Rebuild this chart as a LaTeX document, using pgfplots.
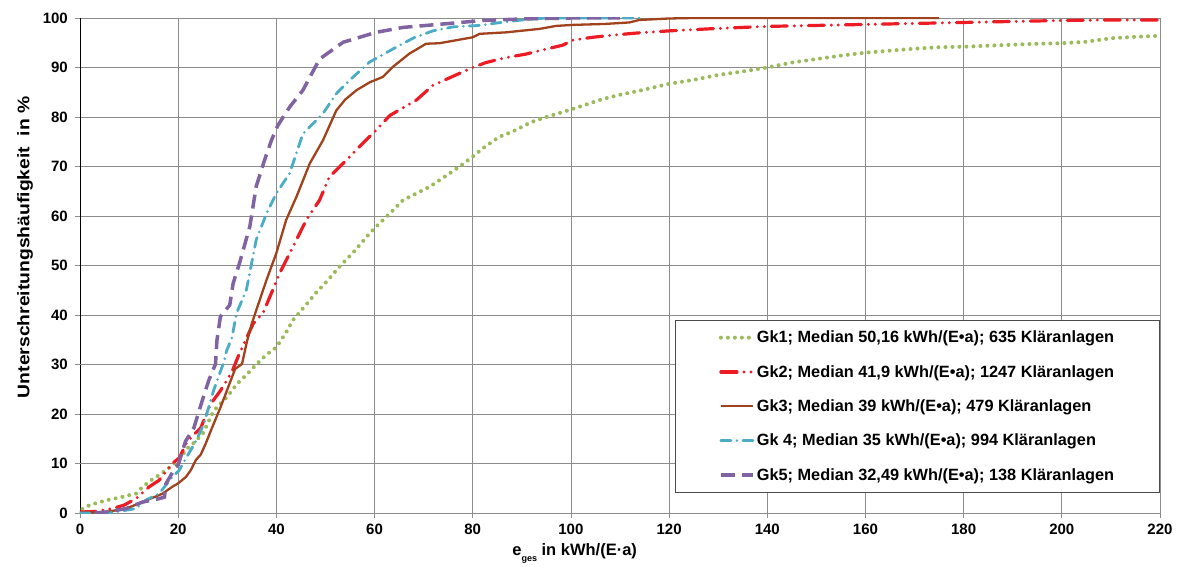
\documentclass[border=0pt]{standalone}
\usepackage{pgfplots}
\pgfplotsset{compat=1.18}
\usepackage{fontspec}
\setmainfont{Liberation Sans}
\definecolor{gkgreen}{HTML}{9BBB59}
\definecolor{gkred}{HTML}{ED1C24}
\definecolor{gkbrown}{HTML}{A0421C}
\definecolor{gkcyan}{HTML}{4BACC6}
\definecolor{gkpurple}{HTML}{8064A2}
\definecolor{gridgray}{HTML}{8C8C8C}
\begin{document}
\begin{tikzpicture}
\begin{axis}[
  name=ax,
  scale only axis,
  width=1080pt, height=495pt,
  xmin=0, xmax=220, ymin=0, ymax=100,
  xtick={0,20,...,220}, ytick={0,10,...,100},
  grid=major,
  major grid style={draw=gridgray, line width=0.7pt},
  extra x ticks={40,100}, extra x tick labels={},
  extra x tick style={grid style={draw=black, line width=0.7pt}},
  extra y ticks={10,30}, extra y tick labels={},
  extra y tick style={grid style={draw=black, line width=0.7pt}},
  axis line style={draw=gridgray, line width=0.7pt},
  separate axis lines,
  y axis line style={draw=black, line width=0.8pt},
  tick align=outside, major tick length=5pt,
  tick style={draw=gridgray, line width=0.7pt},
  axis x line*=bottom, axis y line*=left,
  /pgf/number format/assume math mode=true,
  ticklabel style={font=\bfseries\fontsize{15}{18}\selectfont, inner sep=0pt},
  yticklabel style={xshift=-7pt},
  xticklabel style={yshift=-6pt},
  xlabel={e\raisebox{-0.7ex}{\fontsize{9}{9}\selectfont ges} in kWh/(E·a)},
  xlabel style={at={(axis description cs:0.458,-0.062)}, anchor=north, inner sep=0pt, font=\bfseries\fontsize{16.5}{19}\selectfont},
  ylabel={\scalebox{1.15}[1]{Unterschreitungshäufigkeit\ \ in \%}},
  ylabel style={at={(axis description cs:-0.0435,0.537)}, anchor=south, inner sep=0pt, font=\bfseries\fontsize{16.8}{19}\selectfont},
  legend cell align=left,
  legend image code/.code={\draw[#1] (0pt,0pt) -- (32pt,0pt);},
  legend style={at={(1,0.0404)}, anchor=south east, draw=black!70, line width=0.8pt,
    font=\bfseries\fontsize{16.3}{18}\selectfont, inner xsep=43.5pt, inner ysep=9pt,
    row sep=17pt},
]
% Gk1
\addplot[gkgreen, line width=4pt, line cap=round, dash pattern=on 0pt off 7pt] coordinates {
(0.5,0.8)(2,1.6)(4,2.2)(6,2.7)(8,3.1)(10,3.6)(11.4,3.9)(12.5,5)(14,6.3)(16,7.6)(17.5,8.6)(18.5,9.4)(20,10.6)
(21.9,13.1)(23,14)(25,16)(27.2,20.6)(30,23.5)(31.9,26)(34,28)(36,30.1)(38,32)(40,33.5)(42,36.5)(43.4,39)
(46,42)(48,44.4)(50,46.5)(52.9,49.8)(56,53)(59,56.5)(61,58.5)(63.1,60.5)(65.8,63.2)(68,64.3)(71.2,65.9)
(75.3,68.6)(78,70.5)(80,72)(82.5,74)(85.4,76)(88,77)(90,78)(92,79)(95,80)(100,81.5)(106.4,83.6)(110,84.5)
(113.9,85.3)(120,86.7)(125,87.5)(130,88.5)(135,89.2)(140,90)(145,91)(150,91.7)(155,92.4)(160,93)(165,93.4)
(170,93.8)(175,94.1)(180,94.2)(185,94.4)(190,94.6)(195,94.8)(200,94.9)(205,95.2)(210,95.9)(215,96.2)(220,96.4)
};
\addlegendentry{Gk1; Median 50,16 kWh/(E•a); 635 Kläranlagen}
% Gk2
\addplot[gkred, line width=3.2pt, line cap=round, dash pattern=on 16pt off 7pt on 0pt off 7pt on 0pt off 7pt] coordinates {
(0,0.2)(3,0.3)(6.6,0.9)(9,1.6)(11.4,2.9)(14.1,5.3)(16.1,6.6)(18.8,10)(20.2,11.1)(21.9,14.5)(24.6,17.2)
(26.6,22)(28.6,24.7)(30.9,28.4)(32.3,31.8)(35.3,38.3)(37.3,40.4)(40.7,48.5)(43.4,53.8)(46.1,59.2)(48.8,63.2)
(50.8,67.9)(54.9,71.9)(56.9,74)(60.3,77.3)(63.1,80.3)(68.5,83.4)(71.9,86.4)(76.6,88.5)(80,90)(82.7,91)
(86.8,92)(90.8,92.7)(93.6,93.4)(98.3,94.5)(100.3,95.5)(104.4,96.1)(109.2,96.6)(113.9,97)(120,97.4)(130,97.9)
(140,98.3)(150,98.5)(160,98.7)(170,98.9)(180,99.1)(190,99.3)(200,99.5)(210,99.6)(220,99.6)
};
\addlegendentry{Gk2; Median 41,9 kWh/(E•a); 1247 Kläranlagen}
% Gk3
\addplot[gkbrown, line width=2.3pt] coordinates {
(0,0)(5.3,0.2)(9.4,0.9)(12.7,2.2)(16.8,3.9)(18.8,5.3)(20,6)(21.6,7.3)(22.6,8.7)(23.6,10.7)(24.6,11.8)(25.6,14)
(26.6,16.5)(28.6,21.3)(30.3,25.7)(31.6,29.1)(33,30.1)(34,34.6)(35,38.3)(36.6,43)(38,47.1)(40,52.5)(42,59.2)
(44.1,63.9)(46.8,70.6)(49.5,75.3)(52.2,81.3)(54,83.5)(56.3,85.4)(59,87)(61.7,88.1)(63.7,90.1)(67.1,92.8)
(70.5,94.8)(73.2,94.9)(80,96.1)(81.4,96.8)(86.8,97.1)(93.6,97.8)(97,98.4)(100.3,98.6)(107,98.8)(111.9,99.1)
(113.9,99.6)(120,99.9)(125,100)(175,100)
};
\addlegendentry{Gk3; Median 39 kWh/(E•a); 479 Kläranlagen}
% Gk4
\addplot[gkcyan, line width=2.8pt, line cap=round, dash pattern=on 10pt off 6pt on 0pt off 6pt] coordinates {
(0,0)(6,0)(11.4,0.9)(13.4,2.6)(16.1,3.9)(18.8,7.3)(20.2,8.6)(21.2,10.4)(23.6,14.5)(25.2,17.9)(27.2,24.7)
(29.3,30.5)(29.9,32.9)(30.9,35.2)(31.9,40.4)(33.9,45.1)(35.9,55.2)(38,60.5)(40,64.6)(42.7,68.6)(45.4,76.6)
(49.5,80.7)(52.2,84.7)(55,87.5)(59,91.1)(64.4,94.1)(68,96)(71.9,97.4)(76,98.2)(81.4,98.5)(85,99)(90,99.6)
(95,100)(115,100)
};
\addlegendentry{Gk 4; Median 35 kWh/(E•a); 994 Kläranlagen}
% Gk5
\addplot[gkpurple, line width=3.5pt, dash pattern=on 14pt off 7pt] coordinates {
(3,0)(5.3,0.2)(9.4,0.9)(12.7,2.2)(16.1,2.9)(17.2,3.2)(17.5,5.9)(19.5,9.3)(20,9.7)(21.5,14.5)(23.2,17.2)
(24.9,22.7)(26.2,26.7)(27.6,30.1)(27.9,34.9)(28.6,39.7)(30.5,42)(31.2,46.4)(32.5,50.5)(34.6,57.9)(35.9,66)
(37.6,71.3)(39,75.3)(40.3,78.3)(42.7,82)(45.4,85.4)(48.8,91.7)(53.6,95.1)(60.3,97.1)(65.8,98.1)(75.3,98.9)
(82,99.5)(90,99.8)(100,100)(110,100)
};
\addlegendentry{Gk5; Median 32,49 kWh/(E•a); 138 Kläranlagen}
\end{axis}
\pgfresetboundingbox
\path[use as bounding box] ([xshift=-80pt,yshift=-57pt]ax.south west) rectangle ([xshift=17pt,yshift=18pt]ax.north east);
\end{tikzpicture}
\end{document}
